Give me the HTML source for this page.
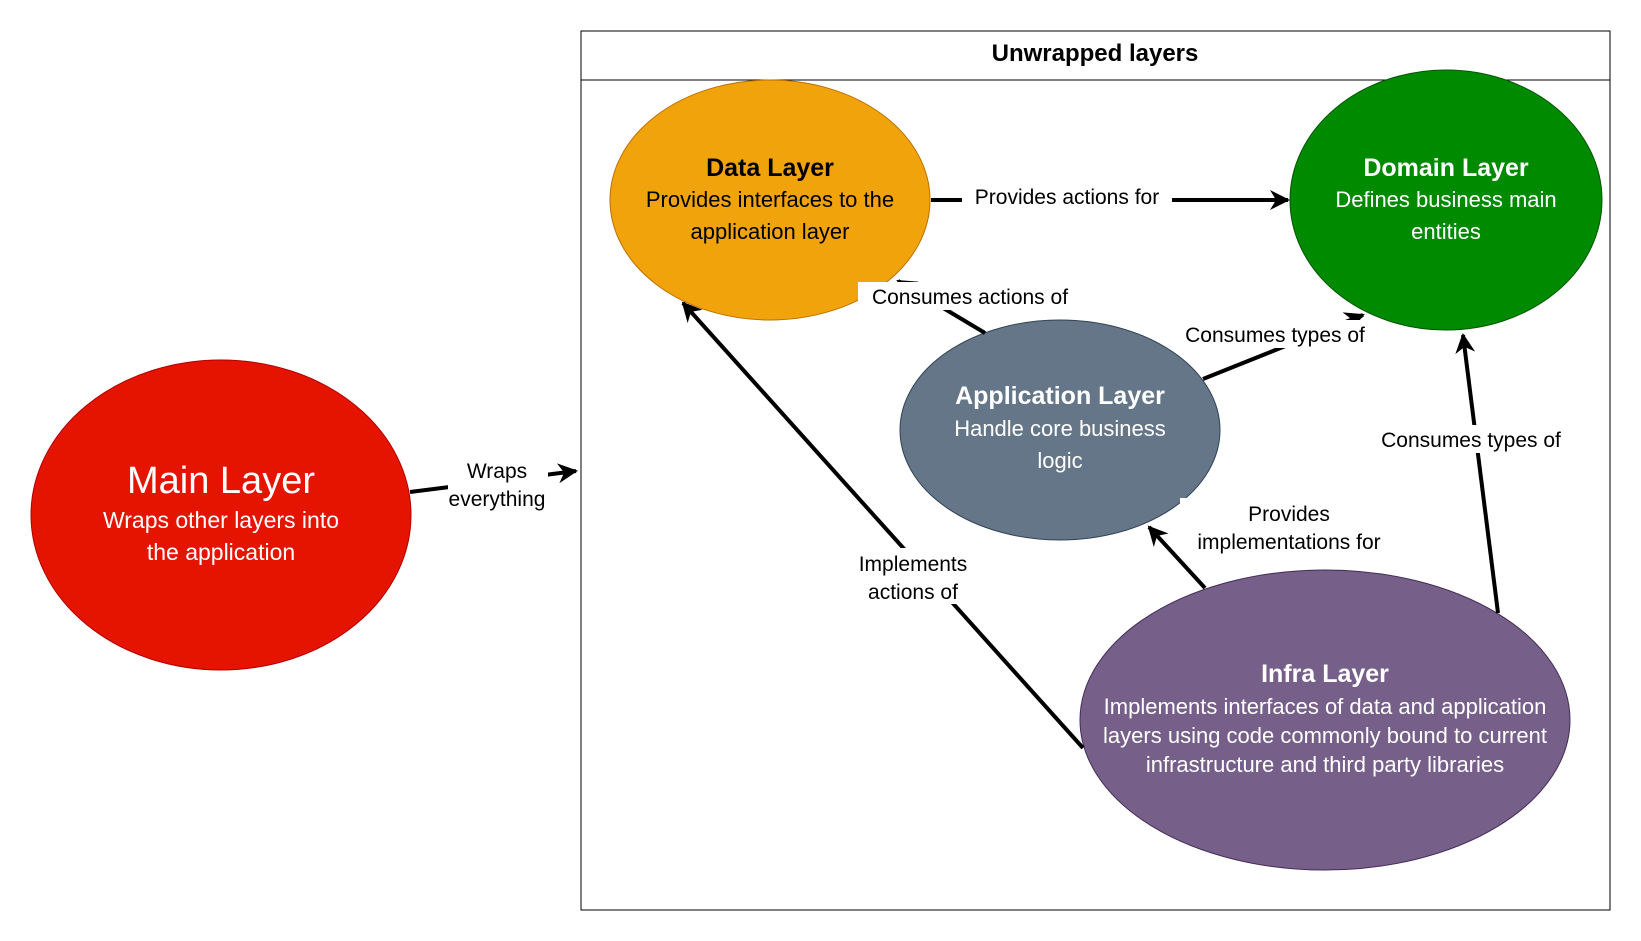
<!DOCTYPE html>
<html><head><meta charset="utf-8"><style>
html,body{margin:0;padding:0;background:#fff;}
svg{display:block;font-family:"Liberation Sans",Arial,sans-serif;}
</style></head><body>
<svg width="1641" height="941" viewBox="0 0 1641 941" xmlns="http://www.w3.org/2000/svg">
<defs>
<marker id="a" viewBox="0 0 10 10" refX="9" refY="5" markerWidth="5" markerHeight="5" orient="auto" markerUnits="strokeWidth">
<path d="M0,0 L10,5 L0,10 L3,5 Z" fill="#000"/>
</marker>
</defs>
<rect x="581" y="31" width="1029" height="879" fill="#fff" stroke="#000" stroke-width="1"/>
<line x1="581" y1="80" x2="1610" y2="80" stroke="#000" stroke-width="1"/>
<text x="1095" y="61" font-size="24" font-weight="bold" text-anchor="middle">Unwrapped layers</text>

<ellipse cx="770" cy="200" rx="160" ry="120" fill="#f0a30a" stroke="#bd7000"/>
<ellipse cx="1446" cy="200" rx="156" ry="130" fill="#008a00" stroke="#005700"/>
<ellipse cx="1060" cy="430" rx="160" ry="110" fill="#647687" stroke="#314354"/>
<ellipse cx="1325" cy="720" rx="245" ry="150" fill="#76608a" stroke="#432d57"/>
<ellipse cx="221" cy="515" rx="190" ry="155" fill="#e51400" stroke="#b20000"/>

<g stroke="#000" stroke-width="4" fill="none">
<line x1="410" y1="492" x2="576" y2="471" marker-end="url(#a)"/>
<line x1="931" y1="200" x2="1288" y2="200" marker-end="url(#a)"/>
<line x1="985" y1="333" x2="898" y2="281" marker-end="url(#a)"/>
<line x1="1203" y1="379" x2="1363" y2="315" marker-end="url(#a)"/>
<line x1="1498" y1="613" x2="1463" y2="335" marker-end="url(#a)"/>
<line x1="1205" y1="588" x2="1149" y2="527" marker-end="url(#a)"/>
<line x1="1083" y1="748" x2="683" y2="303" marker-end="url(#a)"/>
</g>

<g font-size="21" text-anchor="middle">
<rect x="448" y="455" width="100" height="50" fill="#fff"/>
<text x="497" y="478">Wraps</text><text x="497" y="506">everything</text>
<rect x="962" y="184" width="210" height="26" fill="#fff"/>
<text x="1067" y="204">Provides actions for</text>
<rect x="858" y="282" width="225" height="28" fill="#fff"/>
<text x="970" y="304">Consumes actions of</text>
<rect x="1170" y="320" width="210" height="28" fill="#fff"/>
<text x="1275" y="342">Consumes types of</text>
<rect x="1366" y="425" width="210" height="28" fill="#fff"/>
<text x="1471" y="447">Consumes types of</text>
<rect x="1180" y="498" width="218" height="56" fill="#fff"/>
<text x="1289" y="521">Provides</text><text x="1289" y="549">implementations for</text>
<rect x="848" y="548" width="130" height="56" fill="#fff"/>
<text x="913" y="571">Implements</text><text x="913" y="599">actions of</text>
</g>

<g text-anchor="middle">
<text x="770" y="176" font-size="25" font-weight="bold">Data Layer</text>
<text x="770" y="207" font-size="22">Provides interfaces to the</text>
<text x="770" y="239" font-size="22">application layer</text>

<g fill="#fff">
<text x="1446" y="176" font-size="25" font-weight="bold">Domain Layer</text>
<text x="1446" y="207" font-size="22">Defines business main</text>
<text x="1446" y="239" font-size="22">entities</text>

<text x="1060" y="404" font-size="25" font-weight="bold">Application Layer</text>
<text x="1060" y="436" font-size="22">Handle core business</text>
<text x="1060" y="468" font-size="22">logic</text>

<text x="1325" y="682" font-size="25" font-weight="bold">Infra Layer</text>
<text x="1325" y="714" font-size="22">Implements interfaces of data and application</text>
<text x="1325" y="743" font-size="22">layers using code commonly bound to current</text>
<text x="1325" y="772" font-size="22">infrastructure and third party libraries</text>

<text x="221" y="493" font-size="38">Main Layer</text>
<text x="221" y="528" font-size="23">Wraps other layers into</text>
<text x="221" y="560" font-size="23">the application</text>
</g>
</g>
</svg>
</body></html>
